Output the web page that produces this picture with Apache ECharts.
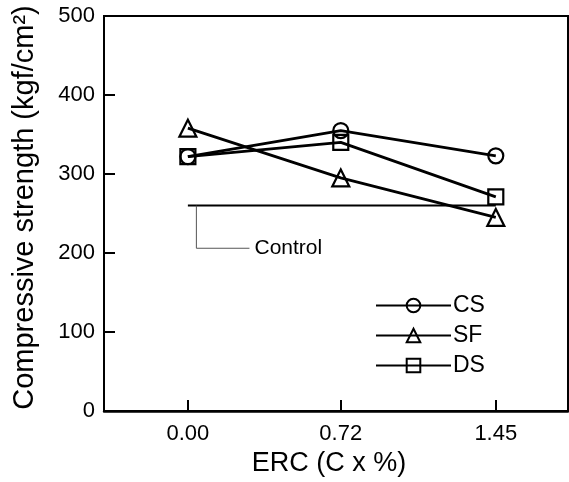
<!DOCTYPE html>
<html>
<head>
<meta charset="utf-8">
<script src="https://cdn.jsdelivr.net/npm/echarts@6/dist/echarts.min.js"></script>
<style>
  html, body { margin: 0; padding: 0; background: #fff; }
  #main { width: 569px; height: 482px; }
</style>
</head>
<body>
<div id="main"></div>
<script>
// ERC dosage (C x %)
var ercValues = [0, 0.72, 1.45];
var ercLabels = ['0.00', '0.72', '1.45'];
var seriesNames = ['CS', 'SF', 'DS'];
var csData = [322, 355, 323];
var sfData = [358, 295, 245];
var dsData = [322, 340, 271];
var controlValue = 260;
// callout path from control line to its label (data coords)
var calloutX = [0.04, 0.04, 0.29];
var calloutY = [260, 206, 206];

var font = 'Liberation Sans, Arial, sans-serif';

function pairs(xs, ys) {
  var out = [];
  for (var i = 0; i < xs.length; i++) out.push([xs[i], ys[i]]);
  return out;
}

var myChart = echarts.init(document.getElementById('main'));

var lineBase = {
  type: 'line',
  symbolSize: 15,
  lineStyle: { color: '#000', width: 2.8 },
  itemStyle: { color: 'rgba(255,255,255,0)', borderColor: '#000', borderWidth: 2.2 },
  z: 3
};

var option = {
  animation: false,
  textStyle: { fontFamily: font, color: '#000' },
  grid: {
    left: 104, right: 1, top: 16, bottom: 71,
    show: true, borderColor: '#000', borderWidth: 2
  },
  legend: {
    orient: 'vertical',
    left: 370, top: 289,
    itemWidth: 75, itemHeight: 17,
    itemGap: 7,
    data: seriesNames,
    lineStyle: { width: 2 },
    textStyle: { fontSize: 23, color: '#000', fontFamily: font, padding: [0, 0, 0, -3] }
  },
  xAxis: {
    type: 'value',
    min: -0.395, max: 1.79,
    splitLine: { show: false },
    axisLine: { lineStyle: { color: '#000', width: 2.5 } },
    axisTick: { inside: true, length: 11, lineStyle: { color: '#000', width: 2 }, customValues: ercValues },
    axisLabel: {
      customValues: ercValues,
      fontSize: 22, color: '#000', margin: 12,
      formatter: function (v) {
        var i = ercValues.indexOf(v);
        return i >= 0 ? ercLabels[i] : '';
      }
    },
    name: 'ERC (C x %)',
    nameLocation: 'middle',
    nameGap: 37,
    nameTextStyle: { fontSize: 27, color: '#000', padding: [0, 14, 0, 0] }
  },
  yAxis: {
    type: 'value',
    min: 0, max: 500, interval: 100,
    splitLine: { show: false },
    axisLine: { show: true, onZero: false, lineStyle: { color: '#000', width: 2 } },
    axisTick: { inside: true, length: 11, lineStyle: { color: '#000', width: 2 } },
    axisLabel: { fontSize: 22, color: '#000', margin: 9 },
    name: 'Compressive strength (kgf/cm²)',
    nameLocation: 'middle',
    nameGap: 65,
    nameTextStyle: { fontSize: 29, color: '#000', padding: [0, 0, 0, 12] }
  },
  series: [
    Object.assign({}, lineBase, { name: 'CS', symbol: 'circle', data: pairs(ercValues, csData) }),
    Object.assign({}, lineBase, { name: 'SF', symbol: 'triangle', symbolSize: 17, data: pairs(ercValues, sfData) }),
    Object.assign({}, lineBase, { name: 'DS', symbol: 'rect', data: pairs(ercValues, dsData) }),
    {
      name: 'Control',
      type: 'line',
      symbol: 'none',
      silent: true,
      lineStyle: { color: '#000', width: 2 },
      data: [[ercValues[0], controlValue], [ercValues[2], controlValue]]
    },
    {
      name: 'callout',
      type: 'line',
      symbol: 'none',
      silent: true,
      lineStyle: { color: '#555', width: 1 },
      data: pairs(calloutX, calloutY),
      endLabel: {
        show: true,
        formatter: 'Control',
        fontSize: 21,
        color: '#000',
        distance: 5,
        fontFamily: font
      }
    }
  ]
};

myChart.setOption(option);
</script>
</body>
</html>
